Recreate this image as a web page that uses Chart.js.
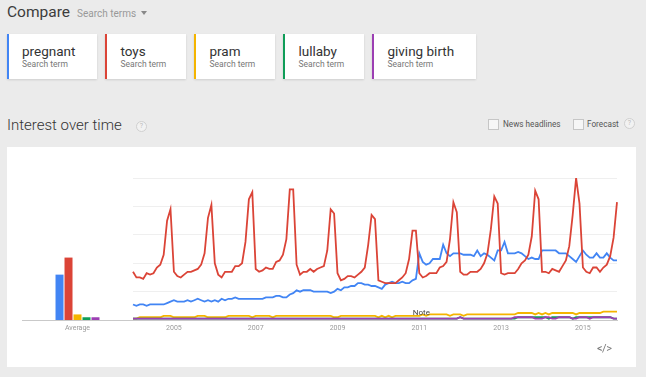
<!DOCTYPE html>
<html><head><meta charset="utf-8">
<script src="https://cdn.jsdelivr.net/npm/chart.js@4"></script>
<style>
html,body{margin:0;padding:0}
body{width:646px;height:377px;background:#ebebeb;font-family:Roboto,Arial,sans-serif;position:relative;overflow:hidden}
.a{position:absolute;line-height:1;white-space:nowrap}
#compare{left:7px;top:5px;font-size:15.5px;color:#3c3c3c}
#searchterms{left:77px;top:9px;font-size:10px;color:#999}
#searchterms span{display:inline-block;margin-left:5px;width:0;height:0;border-left:3.5px solid transparent;border-right:3.5px solid transparent;border-top:4px solid #888;vertical-align:2px}
#cards{position:absolute;left:7px;top:34px;display:flex;gap:8px}
.card{box-sizing:border-box;height:45px;min-width:81px;background:#fff;border-left:2px solid;padding:0 22px 0 13px;box-shadow:0 1px 2px rgba(0,0,0,0.12);position:relative}
.card .t{position:absolute;left:13px;top:10.5px;font-size:13.5px;line-height:1;color:#333;white-space:nowrap}
.card .s{position:absolute;left:13px;top:25.5px;font-size:8.5px;line-height:1;color:#777;white-space:nowrap}
.card .sizer{visibility:hidden;font-size:13.5px;line-height:1;white-space:nowrap;padding-top:9px}
#iot{left:7px;top:117.5px;font-size:15px;color:#333;font-weight:300}
.q{position:absolute;width:9px;height:9px;border:1px solid #d0d0d0;border-radius:50%;font-size:7px;line-height:9px;text-align:center;color:#bbb;background:#f2f2f2}
.cb{position:absolute;width:9px;height:9px;border:1px solid #c6c6c6;background:#f6f6f6}
.lbl{font-size:8.2px;color:#555}
#panel{position:absolute;left:7px;top:147px;width:629px;height:219.5px;background:#fff}
canvas{position:absolute}
#embed{left:597px;top:343px;font-size:11px;color:#777;letter-spacing:-0.5px}
</style>
</head><body>
<div class="a" id="compare">Compare</div>
<div class="a" id="searchterms">Search terms<span></span></div>
<div id="cards"></div>
<div class="a" id="iot">Interest over time</div>
<div class="q" style="left:136px;top:120.5px">?</div>
<div class="cb" style="left:488px;top:118.5px"></div>
<div class="a lbl" style="left:503px;top:119.5px">News headlines</div>
<div class="cb" style="left:573px;top:118.5px"></div>
<div class="a lbl" style="left:587px;top:119.5px">Forecast</div>
<div class="q" style="left:624px;top:118px">?</div>
<div id="panel"></div>
<canvas id="avg" width="126" height="219" style="left:7px;top:147px;width:126px;height:219px"></canvas>
<canvas id="trend" width="513" height="219" style="left:123px;top:147px;width:513px;height:219px"></canvas>
<div class="a" id="embed">&lt;/&gt;</div>
<script>
// ---- data ----
const terms = ['pregnant', 'toys', 'pram', 'lullaby', 'giving birth'];
const subtitle = 'Search term';
const averageLabel = ['Average'];
const averages = [32, 44, 4, 2, 2];
const startYear = 2004;
const monthCount = 143; // Jan 2004 .. Nov 2015
const yearTickLabels = ['2005', '2007', '2009', '2011', '2013', '2015'];
const noteLabel = 'Note';
const noteMonth = '2011-01';

const pregnant = [
  11,10,11,11,10,11,11,11,11,11,12,13,
  14,13,13,13,14,13,14,15,14,13,14,13,
  14,13,15,14,15,15,16,15,15,15,15,15,
  15,15,15,16,16,16,17,17,16,16,18,19,
  21,20,21,21,21,20,20,20,20,20,19,20,
  22,21,23,23,24,24,26,26,25,25,24,24,
  23,22,25,26,27,26,26,27,26,26,28,29,
  47,41,39,40,43,43,43,53,47,45,47,47,
  47,46,46,46,45,49,45,47,46,44,42,49,
  49,55,47,47,47,48,47,45,43,44,43,43,
  49,49,49,49,49,47,47,47,45,43,41,45,
  49,46,44,44,47,44,44,47,44,42,42
];
const toys = [
  34,30,30,29,33,32,33,37,39,46,70,78,
  34,31,30,32,34,34,35,36,39,47,72,81,
  40,32,30,34,34,34,38,38,40,55,85,90,
  36,34,35,37,36,36,41,42,46,57,92,92,
  39,32,34,34,36,34,36,37,38,49,78,75,
  33,28,29,31,31,30,32,34,37,53,74,71,
  28,27,26,26,26,26,28,30,33,43,63,63,
  33,30,31,33,33,33,37,38,41,57,83,76,
  34,32,32,34,34,34,36,40,47,64,87,82,
  33,32,33,33,33,36,40,42,46,59,91,85,
  34,34,33,36,35,34,38,42,52,74,100,82,
  37,34,33,37,37,34,37,39,45,58,83
];
const pram = [
  1,1,2,2,2,2,2,2,2,3,3,3,
  2,2,2,2,2,2,2,3,3,3,2,2,
  2,2,2,2,3,3,3,3,3,3,3,2,
  3,3,3,3,3,2,3,3,3,3,3,3,
  3,3,3,3,3,3,3,3,3,3,3,2,
  2,3,3,3,3,3,3,3,3,3,3,3,
  2,3,2,3,2,3,3,3,3,3,3,3,
  3,4,3,4,4,4,4,4,4,3,4,4,
  4,3,4,4,4,4,4,4,4,4,4,4,
  4,4,4,4,4,5,5,5,5,5,4,5,
  4,5,4,5,5,5,5,5,5,5,4,5,
  5,5,5,5,5,5,6,6,6,6,6
];
const lullaby = [
  1,1,1,1,1,1,1,1,1,1,1,1,
  1,1,1,1,1,1,1,1,1,1,1,1,
  1,1,1,1,1,1,1,1,1,1,1,1,
  1,1,1,1,1,1,1,1,1,1,1,1,
  1,1,1,1,1,1,1,1,1,1,1,1,
  1,1,1,1,1,1,1,1,1,1,1,1,
  1,1,1,1,1,1,1,1,1,1,1,1,
  1,1,1,1,1,1,1,1,1,1,1,1,
  2,1,1,1,1,1,1,1,1,1,1,1,
  1,1,1,1,1,2,2,2,2,2,2,2,
  2,2,1,2,2,2,2,2,2,1,2,2,
  2,2,2,2,2,2,2,2,2,1,1
];
const givingBirth = [
  1,1,1,1,1,1,1,1,1,1,1,1,
  1,1,1,1,1,1,1,1,1,1,1,1,
  1,1,1,1,1,1,1,1,1,1,1,1,
  1,1,1,1,1,1,1,1,1,1,1,1,
  1,1,1,1,1,1,1,1,1,1,1,1,
  1,1,1,1,1,1,1,1,1,1,1,1,
  1,1,1,1,1,1,1,1,1,1,1,1,
  1,1,1,1,1,1,1,1,1,1,1,1,
  2,1,1,1,1,1,1,1,1,1,1,1,
  1,1,1,1,2,2,2,2,2,2,1,1,
  1,2,2,1,1,2,2,2,2,1,1,2,
  2,2,1,2,2,2,2,2,2,1,1
];

// ---- styles ----
const colors = ['#4285f4', '#db4437', '#f4b400', '#0f9d58', '#9c3fb3'];
const series = [pregnant, toys, pram, lullaby, givingBirth];

// month categories
const months = [];
for (let i = 0; i < monthCount; i++) {
  months.push((startYear + Math.floor(i / 12)) + '-' + String(i % 12 + 1).padStart(2, '0'));
}

// term cards
const cardsEl = document.getElementById('cards');
terms.forEach((t, i) => {
  const c = document.createElement('div');
  c.className = 'card';
  c.style.borderLeftColor = colors[i];
  c.innerHTML = '<div class="sizer">' + t + '</div><div class="t">' + t + '</div><div class="s">' + subtitle + '</div>';
  cardsEl.appendChild(c);
});

Chart.defaults.font.family = 'Roboto, Arial, sans-serif';
Chart.defaults.animation = false;

const axisColor = '#c9c9c9';
const gridColor = '#efefef';
const tickFont = { size: 7 };
const tickColor = '#9a9a9a';
const layoutBottom = 29.5;

new Chart(document.getElementById('avg'), {
  type: 'bar',
  data: {
    labels: averageLabel,
    datasets: terms.map((t, i) => ({
      label: t,
      data: [averages[i]],
      backgroundColor: colors[i],
      borderWidth: 0,
      categoryPercentage: 0.405,
      barPercentage: 0.89
    }))
  },
  options: {
    responsive: false,
    devicePixelRatio: 1,
    layout: { padding: { left: 15, right: 0, top: 31, bottom: layoutBottom } },
    plugins: { legend: { display: false }, tooltip: { enabled: false } },
    scales: {
      x: {
        grid: { display: true, color: 'transparent', drawTicks: false },
        border: { display: true, color: axisColor, width: 1 },
        ticks: { font: tickFont, color: tickColor, padding: 4, maxRotation: 0 }
      },
      y: { display: false, min: 0, max: 100 }
    }
  }
});

const notePlugin = {
  id: 'note',
  afterDatasetsDraw(chart) {
    const { ctx, scales } = chart;
    const x = scales.x.getPixelForValue(months.indexOf(noteMonth));
    const y = scales.y.getPixelForValue(0) - 7.5;
    ctx.save();
    ctx.font = '8px Roboto, Arial, sans-serif';
    ctx.fillStyle = '#444';
    ctx.textAlign = 'center';
    ctx.textBaseline = 'middle';
    ctx.fillText(noteLabel, x + 2, y);
    ctx.restore();
  }
};

new Chart(document.getElementById('trend'), {
  type: 'line',
  data: {
    labels: months,
    datasets: series.map((d, i) => ({
      label: terms[i],
      data: d,
      borderColor: colors[i],
      backgroundColor: colors[i],
      borderWidth: 1.8,
      pointRadius: 0,
      tension: 0,
      fill: false,
      order: 4 - i
    }))
  },
  options: {
    responsive: false,
    devicePixelRatio: 1,
    layout: { padding: { left: 10, right: 19, top: 31, bottom: layoutBottom } },
    plugins: { legend: { display: false }, tooltip: { enabled: false } },
    scales: {
      x: {
        grid: { display: false, drawTicks: false },
        border: { display: true, color: axisColor, width: 1 },
        ticks: {
          autoSkip: false, maxRotation: 0, minRotation: 0,
          font: tickFont, color: tickColor, padding: 4,
          callback: function (v) {
            const m = months[v];
            const yr = m.slice(0, 4);
            return (m.endsWith('-01') && yearTickLabels.includes(yr)) ? yr : '';
          }
        }
      },
      y: {
        min: 0, max: 100,
        grid: { color: gridColor, drawTicks: false },
        border: { display: false },
        ticks: { display: false, stepSize: 20 }
      }
    }
  },
  plugins: [notePlugin]
});
</script>
</body></html>
